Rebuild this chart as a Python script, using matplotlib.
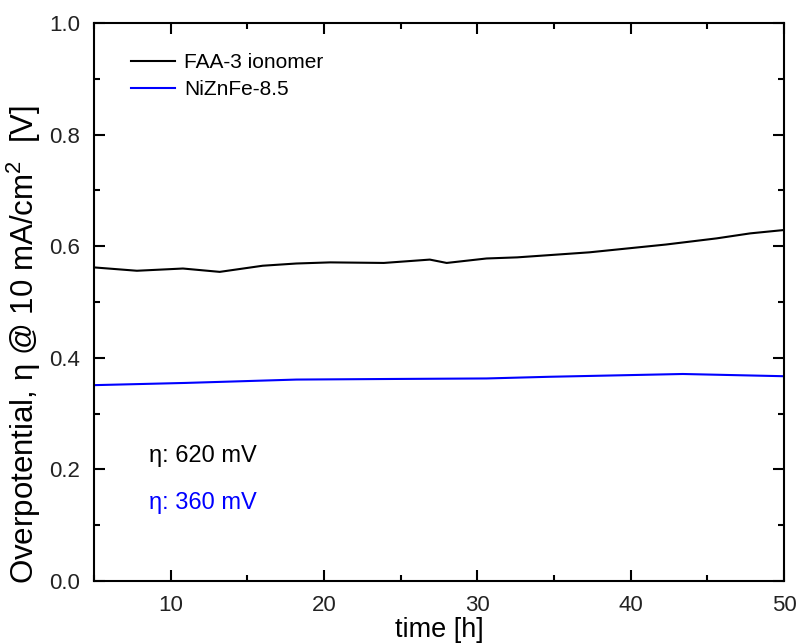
import numpy as np
import matplotlib
matplotlib.use("Agg")
import matplotlib.pyplot as plt
from matplotlib.ticker import MultipleLocator

# values
t_faa = [5.0, 7.8, 10.8, 13.2, 16.0, 18.2, 20.4, 23.9, 26.9, 28.0, 30.6, 32.6, 37.3, 42.3, 45.6, 47.8, 50.0]
v_faa = [0.562, 0.556, 0.560, 0.554, 0.565, 0.569, 0.571, 0.570, 0.576, 0.570, 0.578, 0.580, 0.589, 0.603, 0.614, 0.623, 0.629]

t_nzf = [5.0, 11.0, 18.2, 24.0, 30.6, 34.7, 43.4, 50.0]
v_nzf = [0.351, 0.355, 0.361, 0.362, 0.363, 0.366, 0.371, 0.367]

labels = ["FAA-3 ionomer", "NiZnFe-8.5"]
notes = ["η: 620 mV", "η: 360 mV"]
colors = ["black", "#0000ff"]

plt.rcParams.update({
    "font.family": ["Liberation Sans", "DejaVu Sans"],
    "font.size": 16,
    "axes.linewidth": 1.5,
    "mathtext.fontset": "custom",
    "mathtext.rm": "Liberation Sans",
})

fig = plt.figure(figsize=(8, 6.44), dpi=100)
ax = fig.add_axes([0.1175, 0.0978, 0.8625, 0.8665])

ax.plot(t_faa, v_faa, color=colors[0], lw=1.5, label=labels[0])
ax.plot(t_nzf, v_nzf, color=colors[1], lw=1.5, label=labels[1])

ax.set_xlim(5, 50)
ax.set_ylim(0, 1.0)
ax.xaxis.set_major_locator(MultipleLocator(10))
ax.xaxis.set_minor_locator(MultipleLocator(5))
ax.yaxis.set_major_locator(MultipleLocator(0.2))
ax.yaxis.set_minor_locator(MultipleLocator(0.1))
ax.tick_params(which="both", direction="in", top=True, right=True, width=1.5)
ax.tick_params(which="major", length=8, labelsize=16, pad=10, labelcolor="#222222")
ax.tick_params(which="minor", length=4)
ax.set_xticks([10, 20, 30, 40, 50])
ax.set_yticklabels([f"{v:.1f}" for v in ax.get_yticks()])

ax.set_xlabel("time [h]", fontsize=19.5, labelpad=0.5)
ax.set_ylabel("Overpotential, η @ 10 mA/cm$^\\mathrm{2}$  [V]", fontsize=22.5)
ax.yaxis.set_label_coords(-0.074, 0.423)

ax.legend(frameon=False, loc="upper left", fontsize=15, handlelength=2.15,
          handletextpad=0.4, bbox_to_anchor=(0.026, 0.979), labelspacing=0.38)

ax.text(0.08, 0.214, notes[0], transform=ax.transAxes, fontsize=17, color=colors[0])
ax.text(0.08, 0.129, notes[1], transform=ax.transAxes, fontsize=17, color=colors[1])

fig.savefig("out.png", dpi=100)
